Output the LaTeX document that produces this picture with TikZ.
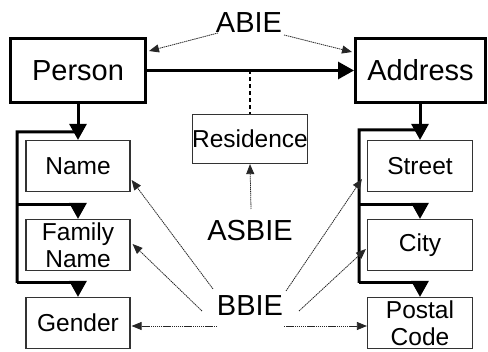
\documentclass[tikz,border=0pt]{standalone}
\usepackage{fontspec}
\setmainfont{Liberation Sans}
\usetikzlibrary{arrows.meta}
\tikzset{
  bigbox/.style={draw, line width=3pt, minimum height=64pt, inner sep=0pt,
    font=\fontsize{29}{32}\selectfont},
  item/.style={draw=black!80, line width=1.2pt, minimum width=104pt,
    minimum height=51pt, inner sep=0pt, align=center,
    font=\fontsize{24.5}{26.5}\selectfont},
  tag/.style={inner sep=0pt, font=\fontsize{29}{32}\selectfont},
  bus/.style={line width=3pt, -{Triangle[length=16pt,width=17pt]}},
  busline/.style={line width=3pt},
  pointer/.style={line width=0.8pt, black!85, dash pattern=on 1.4pt off 0.7pt,
    -{Triangle[length=10pt,width=8pt]}},
  link/.style={line width=2.5pt, dash pattern=on 4pt off 3pt},
}
\begin{document}
\begin{tikzpicture}[x=1pt,y=-1pt]
\useasboundingbox (0,0) rectangle (488,352);

% aggregates
\node[bigbox, minimum width=135pt] (person)  at (78,70.5)  {Person};
\node[bigbox, minimum width=130pt] (address) at (420.5,70.5) {Address};

% association entity
\node[item, minimum width=115pt, minimum height=49pt] (residence) at (250,139) {Residence};

% basic entities of Person
\node[item] (name)   at (78,166) {Name};
\node[item] (family) at (78,245) {Family\\Name};
\node[item] (gender) at (78,323) {Gender};

% basic entities of Address
\node[item, minimum width=105pt] (street) at (420,166) {Street};
\node[item, minimum width=105pt] (city)   at (420,245) {City};
\node[item, minimum width=105pt] (postal) at (420,323) {Postal\\Code};

% category labels
\node[tag] (abie)  at (249,22.5) {ABIE};
\node[tag] (asbie) at (250,231)  {ASBIE};
\node[tag] (bbie)  at (250,306)  {BBIE};

% association
\draw[bus] (person) -- (address);
\draw[link] (residence.north |- person.east) -- (residence.north);

% composition tree, left
\coordinate (lTop) at (17,132);
\coordinate (lMid) at (17,205);
\coordinate (lBot) at (17,283);
\draw[bus] (person) -- (name);
\draw[busline] ([yshift=8pt]name.north) -- (lTop) -- (lBot);
\draw[bus] (lMid) -| (family.north);
\draw[bus] (lBot) -| (gender.north);

% composition tree, right
\coordinate (rTop) at (359,130);
\coordinate (rMid) at (359,205);
\coordinate (rBot) at (359,283);
\draw[bus] (address.south -| street.north) -- (street);
\draw[busline] ([yshift=10pt]street.north) -- (rTop) -- (rBot);
\draw[bus] (rMid) -| (city.north);
\draw[bus] (rBot) -| (postal.north);

% label pointers
\draw[pointer] ([shift={(-31,10.5)}]abie.center) -- ([shift={(2,14)}]person.north east);
\draw[pointer] ([shift={(35,12.5)}]abie.center) -- ([shift={(-2,15)}]address.north west);
\draw[pointer] ([shift={(1,-22)}]asbie.center) -- (residence.south);

\draw[pointer] ([shift={(-37,-17)}]bbie.center) -- ([shift={(1,14)}]name.east);
\draw[pointer] ([shift={(-48,5)}]bbie.center) -- ([shift={(2,-1)}]family.east);
\draw[pointer] ([shift={(-33,20)}]bbie.center) -- ([shift={(1,3)}]gender.east);
\draw[pointer] ([shift={(36,-15)}]bbie.center) -- ([shift={(-5,13)}]street.west);
\draw[pointer] ([shift={(49,5)}]bbie.center) -- ([shift={(-1,4)}]city.west);
\draw[pointer] ([shift={(34,20)}]bbie.center) -- ([shift={(0,3)}]postal.west);
\end{tikzpicture}
\end{document}
